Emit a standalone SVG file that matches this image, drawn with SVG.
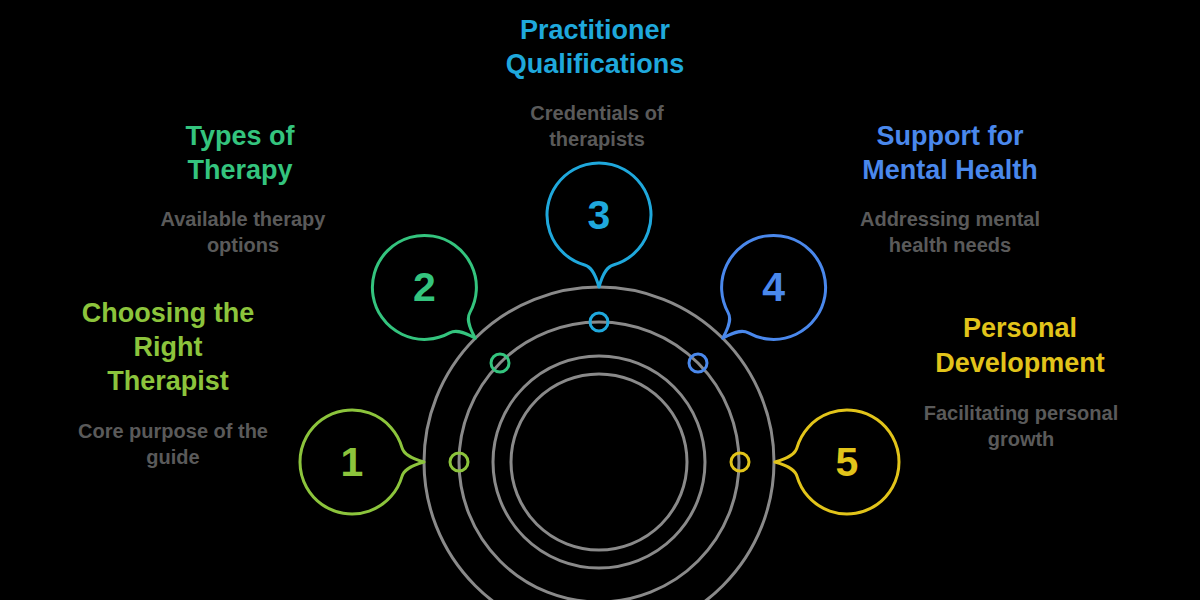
<svg xmlns="http://www.w3.org/2000/svg" width="1200" height="600" viewBox="0 0 1200 600">
  <defs>
    <style>
      .ring { fill: none; stroke: #8a8a8a; stroke-width: 3; }
      .bubble { fill: none; stroke-width: 3; stroke-linejoin: round; }
      .dot { fill: none; stroke-width: 3; }
      .num { font-family: "Liberation Sans", Arial, sans-serif; font-weight: bold; font-size: 41px; text-anchor: middle; }
      .title { font-family: "Liberation Sans", Arial, sans-serif; font-weight: bold; font-size: 27px; text-anchor: middle; }
      .desc { font-family: "Liberation Sans", Arial, sans-serif; font-weight: bold; font-size: 20px; text-anchor: middle; fill: #5a5a5a; }
      .c1 { stroke: #8cc43c; fill: #8cc43c; }
      .c2 { stroke: #34c47e; fill: #34c47e; }
      .c3 { stroke: #1fa8dc; fill: #1fa8dc; }
      .c4 { stroke: #4a88ec; fill: #4a88ec; }
      .c5 { stroke: #e2c41a; fill: #e2c41a; }
      text.c1, text.c2, text.c3, text.c4, text.c5 { stroke: none; }
    </style>
    <path id="bub" d="M 49.98,-14.33 A 52 52 0 1 0 49.98,14.33 C 51.5,9 56,4.5 72,0 C 56,-4.5 51.5,-9 49.98,-14.33 Z"/>
  </defs>
  <rect x="0" y="0" width="1200" height="600" fill="#000000"/>

  <g id="connectors">
    <circle class="ring" cx="599" cy="462" r="175"/>
    <circle class="ring" cx="599" cy="462" r="140"/>
    <circle class="ring" cx="599" cy="462" r="106"/>
    <circle class="ring" cx="599" cy="462" r="88"/>
  </g>

  <g id="node1">
    <use href="#bub" class="bubble c1" style="fill:none" transform="translate(352,462)"/>
    <text class="num c1" x="352" y="476">1</text>
    <circle class="dot c1" style="fill:none" cx="459" cy="462" r="9"/>
    <text class="title c1" x="168" y="322">Choosing the</text>
    <text class="title c1" x="168" y="356">Right</text>
    <text class="title c1" x="168" y="390">Therapist</text>
    <text class="desc" x="173" y="438">Core purpose of the</text>
    <text class="desc" x="173" y="464">guide</text>
  </g>

  <g id="node2">
    <use href="#bub" class="bubble c2" style="fill:none" transform="translate(424.4,287.4) rotate(45)"/>
    <text class="num c2" x="424.4" y="301">2</text>
    <circle class="dot c2" style="fill:none" cx="500" cy="363" r="9"/>
    <text class="title c2" x="240" y="145">Types of</text>
    <text class="title c2" x="240" y="179">Therapy</text>
    <text class="desc" x="243" y="226">Available therapy</text>
    <text class="desc" x="243" y="252">options</text>
  </g>

  <g id="node3">
    <use href="#bub" class="bubble c3" style="fill:none" transform="translate(599,215) rotate(90)"/>
    <text class="num c3" x="599" y="229">3</text>
    <circle class="dot c3" style="fill:none" cx="599" cy="322" r="9"/>
    <text class="title c3" x="595" y="39">Practitioner</text>
    <text class="title c3" x="595" y="73">Qualifications</text>
    <text class="desc" x="597" y="120">Credentials of</text>
    <text class="desc" x="597" y="146">therapists</text>
  </g>

  <g id="node4">
    <use href="#bub" class="bubble c4" style="fill:none" transform="translate(773.6,287.4) rotate(135)"/>
    <text class="num c4" x="773.6" y="301">4</text>
    <circle class="dot c4" style="fill:none" cx="698" cy="363" r="9"/>
    <text class="title c4" x="950" y="145">Support for</text>
    <text class="title c4" x="950" y="179">Mental Health</text>
    <text class="desc" x="950" y="226">Addressing mental</text>
    <text class="desc" x="950" y="252">health needs</text>
  </g>

  <g id="node5">
    <use href="#bub" class="bubble c5" style="fill:none" transform="translate(847,462) rotate(180)"/>
    <text class="num c5" x="847" y="476">5</text>
    <circle class="dot c5" style="fill:none" cx="740" cy="462" r="9"/>
    <text class="title c5" x="1020" y="337">Personal</text>
    <text class="title c5" x="1020" y="372">Development</text>
    <text class="desc" x="1021" y="420">Facilitating personal</text>
    <text class="desc" x="1021" y="446">growth</text>
  </g>
</svg>
